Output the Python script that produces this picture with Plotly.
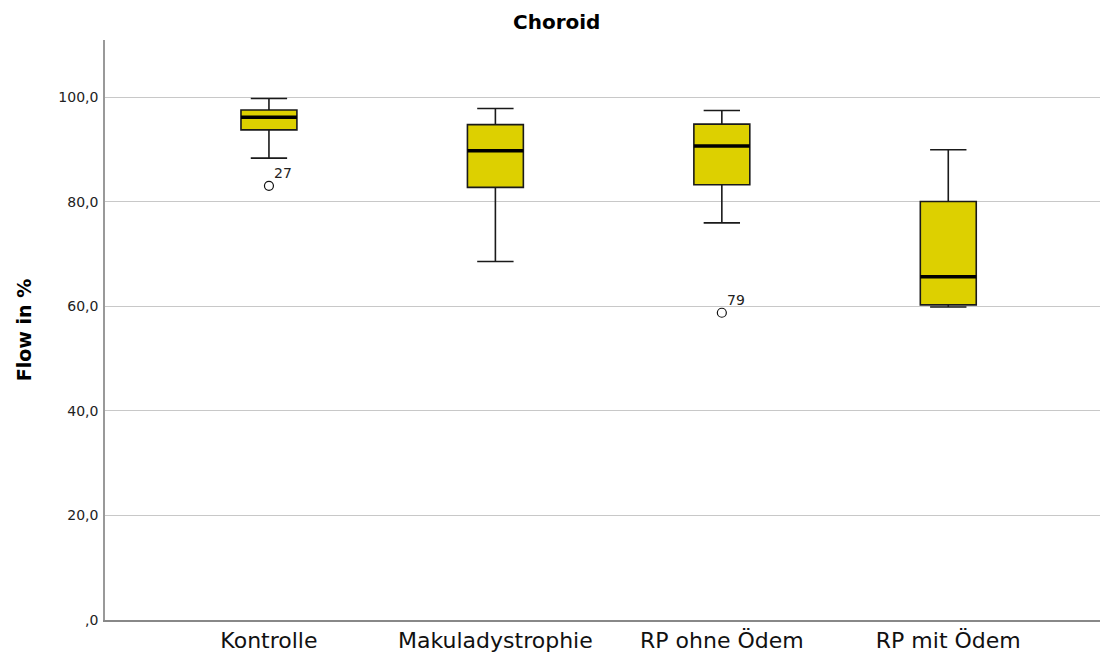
import plotly.graph_objects as go

categories = ["Kontrolle", "Makuladystrophie", "RP ohne Ödem", "RP mit Ödem"]
lower_whisker = [88.4, 68.6, 76.0, 59.9]
q1 = [93.8, 82.8, 83.3, 60.3]
median = [96.2, 89.8, 90.7, 65.7]
q3 = [97.6, 94.8, 94.9, 80.1]
upper_whisker = [99.8, 97.9, 97.5, 90.0]
outlier_cat = [0, 2]
outlier_val = [83.1, 58.8]
outlier_label = ["27", "79"]
y_ticks = [0, 20, 40, 60, 80, 100]
y_ticklabels = [",0", "20,0", "40,0", "60,0", "80,0", "100,0"]

BOX_W = 0.247
FILL = "#DDD000"
FONT = "DejaVu Sans"
pos = list(range(len(categories)))

fig = go.Figure()
fig.add_trace(go.Box(
    x=pos, q1=q1, median=median, q3=q3,
    lowerfence=lower_whisker, upperfence=upper_whisker,
    width=BOX_W, whiskerwidth=0.65,
    fillcolor=FILL, line=dict(color="#1a1a1a", width=1.6),
    boxpoints=False, hoverinfo="skip", showlegend=False,
))
# thick median lines
mx, my = [], []
for i, m in zip(pos, median):
    mx += [i - BOX_W / 2, i + BOX_W / 2, None]
    my += [m, m, None]
fig.add_trace(go.Scatter(x=mx, y=my, mode="lines",
                         line=dict(color="black", width=3.5),
                         showlegend=False, hoverinfo="skip"))
# outliers
fig.add_trace(go.Scatter(
    x=outlier_cat, y=outlier_val, mode="markers",
    marker=dict(symbol="circle-open", size=9, color="#111", line=dict(width=1.2)),
    showlegend=False, hoverinfo="skip"))
for c, v, t in zip(outlier_cat, outlier_val, outlier_label):
    fig.add_annotation(x=c, y=v, text=t, showarrow=False,
                       xanchor="left", yanchor="bottom", xshift=3, yshift=3,
                       font=dict(size=14, color="#222", family=FONT))

fig.add_annotation(
    text="<b>Choroid</b>", xref="paper", yref="paper",
    x=(556 - 105) / 995, y=1, xanchor="center", yanchor="middle", yshift=18,
    showarrow=False, font=dict(size=20, family=FONT, color="black"))

fig.update_layout(
    width=1102, height=652,
    margin=dict(l=105, r=2, t=40, b=32),
    paper_bgcolor="white", plot_bgcolor="white",
    font=dict(family=FONT, color="#111"),
)
fig.update_xaxes(
    range=[-0.724, 3.67], tickvals=pos, ticktext=categories,
    tickfont=dict(size=22, family=FONT, color="#111"),
    showgrid=False, zeroline=False, showline=True, automargin=False,
    linecolor="#888", linewidth=1.5, ticks="", ticklen=0,
)
fig.update_yaxes(
    range=[0, 111], tickvals=y_ticks, ticktext=y_ticklabels,
    tickfont=dict(size=14, family=FONT, color="#222"),
    ticklabelstandoff=2, automargin=False,
    showgrid=True, gridcolor="#c8c8c8", gridwidth=1.3,
    zeroline=False, showline=True, linecolor="#999", linewidth=1.5,
    ticks="", title=dict(text="<b>Flow in %</b>", font=dict(size=19, family=FONT, color="black"), standoff=22),
)
fig.write_html("out.html")
